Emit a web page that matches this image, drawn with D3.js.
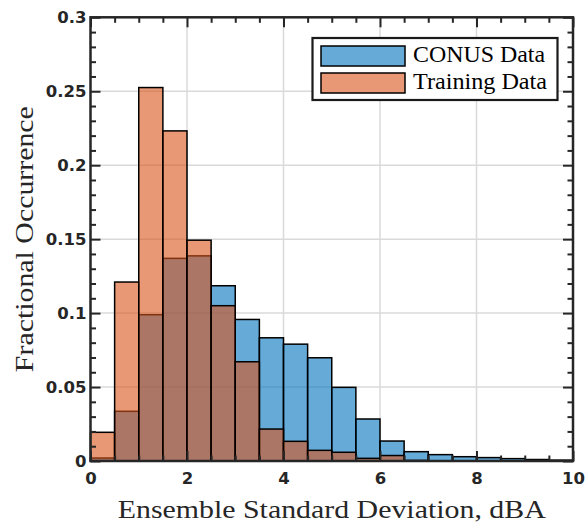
<!DOCTYPE html>
<html>
<head>
<meta charset="utf-8">
<script src="https://cdn.jsdelivr.net/npm/d3@7"></script>
<style>
  html, body { margin: 0; padding: 0; background: #fff; }
  svg { display: block; }
</style>
</head>
<body>
<div id="chart"></div>
<script>
// ---------------- data ----------------
const binEdges = [0, 0.5, 1, 1.5, 2, 2.5, 3, 3.5, 4, 4.5, 5, 5.5, 6, 6.5, 7, 7.5, 8, 8.5, 9, 9.5, 10];
const conusData = [0.002, 0.0336, 0.0989, 0.137, 0.1387, 0.1185, 0.0957, 0.0833, 0.079, 0.0698,
                   0.0498, 0.0284, 0.0135, 0.0063, 0.0043, 0.0029, 0.0023, 0.0016, 0.001, 0.0006];
const trainingData = [0.0194, 0.121, 0.2525, 0.2232, 0.1493, 0.105, 0.0671, 0.0216, 0.0133, 0.0072,
                      0.0059, 0.0018, 0.0037, 0.0004, 0, 0, 0, 0, 0, 0];
const seriesNames = ["CONUS Data", "Training Data"];
const xTicks = [0, 2, 4, 6, 8, 10];
const xMinorTicks = [0.5, 1, 1.5, 2.5, 3, 3.5, 4.5, 5, 5.5, 6.5, 7, 7.5, 8.5, 9, 9.5];
const yTicks = [0, 0.05, 0.1, 0.15, 0.2, 0.25, 0.3];
const yTickLabels = ["0", "0.05", "0.1", "0.15", "0.2", "0.25", "0.3"];
const xLabel = "Ensemble Standard Deviation, dBA";
const yLabel = "Fractional Occurrence";

// ---------------- layout ----------------
const W = 586, H = 525;
const m = { left: 90.5, right: 586 - 573, top: 17.3, bottom: 525 - 461 };
const pw = W - m.left - m.right, ph = H - m.top - m.bottom;
const axisColor = "#262626";
const blue = "rgb(0,114,189)", orange = "rgb(217,83,25)";

const svg = d3.select("#chart").append("svg").attr("width", W).attr("height", H);
const g = svg.append("g").attr("transform", `translate(${m.left},${m.top})`);

const x = d3.scaleLinear().domain([0, 10]).range([0, pw]);
const y = d3.scaleLinear().domain([0, 0.3]).range([ph, 0]);
const yMinor = d3.range(0, 31).map(i => i / 100).filter(v => !yTicks.some(t => Math.abs(t - v) < 1e-9));

// grid
g.append("g").selectAll("line").data(xTicks.slice(1, -1)).join("line")
  .attr("x1", d => x(d)).attr("x2", d => x(d)).attr("y1", 0).attr("y2", ph)
  .attr("stroke", "#dadada").attr("stroke-width", 1.5);
g.append("g").selectAll("line").data(yTicks.slice(1, -1)).join("line")
  .attr("y1", d => y(d)).attr("y2", d => y(d)).attr("x1", 0).attr("x2", pw)
  .attr("stroke", "#dadada").attr("stroke-width", 1.5);

// bars
function drawBars(vals, color) {
  g.append("g").selectAll("rect").data(vals).join("rect")
    .attr("x", (d, i) => x(binEdges[i]))
    .attr("width", (d, i) => x(binEdges[i + 1]) - x(binEdges[i]))
    .attr("y", d => y(d))
    .attr("height", d => y(0) - y(d))
    .attr("fill", color).attr("fill-opacity", 0.6)
    .attr("stroke", "#000").attr("stroke-width", 1.5);
}
drawBars(conusData, blue);
drawBars(trainingData, orange);

// axes (inward ticks, box)
const tickFont = "DejaVu Sans, sans-serif";
function styleAxis(sel) {
  sel.select(".domain").remove();
  sel.selectAll(".tick line").attr("stroke", axisColor).attr("stroke-width", 2);
  sel.selectAll("text").attr("fill", axisColor).attr("font-family", tickFont)
    .attr("font-weight", "bold").attr("font-size", 16.5);
}
const xb = g.append("g").attr("transform", `translate(0,${ph})`)
  .call(d3.axisBottom(x).tickValues(xTicks).tickSize(-10).tickPadding(11).tickFormat(d3.format("d")));
styleAxis(xb);
const xbm = g.append("g").attr("transform", `translate(0,${ph})`)
  .call(d3.axisBottom(x).tickValues(xMinorTicks).tickSize(-5.5).tickFormat(""));
styleAxis(xbm);
const xt = g.append("g").call(d3.axisTop(x).tickValues(xTicks).tickSize(-10).tickFormat(""));
styleAxis(xt);
const xtm = g.append("g").call(d3.axisTop(x).tickValues(xMinorTicks).tickSize(-5.5).tickFormat(""));
styleAxis(xtm);

const yl = g.append("g")
  .call(d3.axisLeft(y).tickValues(yTicks).tickSize(-10).tickPadding(4).tickFormat((d, i) => yTickLabels[i]));
styleAxis(yl);
const ylm = g.append("g").call(d3.axisLeft(y).tickValues(yMinor).tickSize(-5.5).tickFormat(""));
styleAxis(ylm);
const yr = g.append("g").attr("transform", `translate(${pw},0)`)
  .call(d3.axisRight(y).tickValues(yTicks).tickSize(-10).tickFormat(""));
styleAxis(yr);
const yrm = g.append("g").attr("transform", `translate(${pw},0)`)
  .call(d3.axisRight(y).tickValues(yMinor).tickSize(-5.5).tickFormat(""));
styleAxis(yrm);

// box
g.append("rect").attr("x", 0).attr("y", 0).attr("width", pw).attr("height", ph)
  .attr("fill", "none").attr("stroke", axisColor).attr("stroke-width", 2.5);

// axis labels
const serif = "Liberation Serif, Times New Roman, serif";
svg.append("text").attr("x", m.left + pw / 2).attr("y", 518)
  .attr("text-anchor", "middle").attr("font-family", serif).attr("font-size", 26)
  .attr("fill", axisColor).attr("textLength", 428).attr("lengthAdjust", "spacingAndGlyphs")
  .text(xLabel);
svg.append("text").attr("transform", `translate(33,${m.top + ph / 2}) rotate(-90)`)
  .attr("text-anchor", "middle").attr("font-family", serif).attr("font-size", 26)
  .attr("fill", axisColor).attr("textLength", 266).attr("lengthAdjust", "spacingAndGlyphs")
  .text(yLabel);

// legend
const lg = svg.append("g");
lg.append("rect").attr("x", 312.5).attr("y", 38).attr("width", 245).attr("height", 62)
  .attr("fill", "#fff").attr("stroke", "#1a1a1a").attr("stroke-width", 2.2);
const legendColors = [blue, orange];
const legendWidths = [132, 134];
seriesNames.forEach((name, i) => {
  lg.append("rect").attr("x", 321).attr("y", 46 + i * 27).attr("width", 84).attr("height", 20)
    .attr("fill", legendColors[i]).attr("fill-opacity", 0.6)
    .attr("stroke", "#000").attr("stroke-width", 1.5);
  lg.append("text").attr("x", 413).attr("y", 62 + i * 27)
    .attr("font-family", serif).attr("font-size", 24).attr("fill", "#000")
    .attr("textLength", legendWidths[i]).attr("lengthAdjust", "spacingAndGlyphs")
    .text(name);
});
</script>
</body>
</html>
